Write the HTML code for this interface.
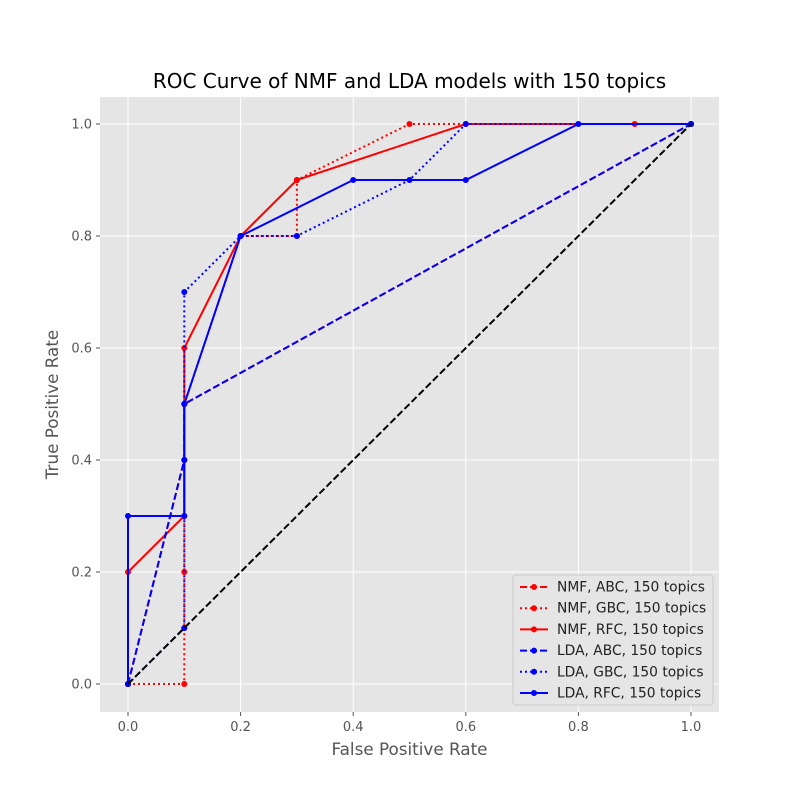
<!DOCTYPE html>
<html><head><meta charset="utf-8"><style>
body{margin:0;background:#fff;}
svg{display:block;font-family:"DejaVu Sans","Liberation Sans",sans-serif;}
</style></head><body>
<svg id="chart" width="800" height="800">
<rect x="0" y="0" width="800" height="800" fill="#fff"/>
<rect x="100" y="97" width="619" height="615" fill="#e5e5e5"/>
<g id="grid"></g>
<g id="ticks"></g>
<g id="series"></g>
<text x="409.5" y="88" font-size="20" text-anchor="middle" fill="#000">ROC Curve of NMF and LDA models with 150 topics</text>
<text x="409.5" y="755" font-size="16.8" text-anchor="middle" fill="#555">False Positive Rate</text>
<text x="58" y="404.5" font-size="16.8" text-anchor="middle" fill="#555" transform="rotate(-90 58 404.5)">True Positive Rate</text>
<g id="legend"></g>
</svg>
<script>
const xTicks=[0,0.2,0.4,0.6,0.8,1.0];
const yTicks=[0,0.2,0.4,0.6,0.8,1.0];
const tickLabels=["0.0","0.2","0.4","0.6","0.8","1.0"];
const seriesNames=["NMF, ABC, 150 topics","NMF, GBC, 150 topics","NMF, RFC, 150 topics","LDA, ABC, 150 topics","LDA, GBC, 150 topics","LDA, RFC, 150 topics"];
const nmfAbcX=[0,0.1,0.1,1];
const nmfAbcY=[0,0.4,0.5,1];
const nmfGbcX=[0,0.1,0.1,0.1,0.1,0.2,0.3,0.3,0.5,0.9,1];
const nmfGbcY=[0,0,0.1,0.2,0.5,0.8,0.8,0.9,1,1,1];
const nmfRfcX=[0,0,0.1,0.1,0.2,0.3,0.6,1];
const nmfRfcY=[0,0.2,0.3,0.6,0.8,0.9,1,1];
const ldaAbcX=[0,0.1,0.1,1];
const ldaAbcY=[0,0.4,0.5,1];
const ldaGbcX=[0,0.1,0.1,0.1,0.2,0.3,0.5,0.6,1];
const ldaGbcY=[0,0.1,0.4,0.7,0.8,0.8,0.9,1,1];
const ldaRfcX=[0,0,0.1,0.1,0.2,0.4,0.6,0.8,1];
const ldaRfcY=[0,0.3,0.3,0.5,0.8,0.9,0.9,1,1];
const refX=[0,1];
const refY=[0,1];

const NS="http://www.w3.org/2000/svg";
const sx=v=>128+v*563, sy=v=>684-v*560;
function mk(t,a,p){const e=document.createElementNS(NS,t);for(const k in a)e.setAttribute(k,a[k]);p.appendChild(e);return e;}
const grid=document.getElementById('grid'),ticks=document.getElementById('ticks');
xTicks.forEach((v,i)=>{
  const g=mk('line',{x1:sx(v),x2:sx(v),y1:97,y2:712,stroke:'#fff','stroke-width':1},grid);
  
  
  mk('line',{x1:sx(v),x2:sx(v),y1:712,y2:716,stroke:'#555'},ticks);
  const t=mk('text',{x:sx(v),y:731,'font-size':13,'text-anchor':'middle',fill:'#555'},ticks);
  t.textContent=tickLabels[i];
  
  
});
yTicks.forEach((v,i)=>{
  const g=mk('line',{x1:100,x2:719,y1:sy(v),y2:sy(v),stroke:'#fff','stroke-width':1},grid);
  
  
  mk('line',{x1:96,x2:100,y1:sy(v),y2:sy(v),stroke:'#555'},ticks);
  const t=mk('text',{x:92,y:sy(v)+4.5,'font-size':13,'text-anchor':'end',fill:'#555'},ticks);
  t.textContent=tickLabels[i];
  
  
});
const styles=[
 {xs:nmfAbcX,ys:nmfAbcY,c:'red',d:'7,3',n:'nmf-abc-line'},
 {xs:nmfGbcX,ys:nmfGbcY,c:'red',d:'2,3',n:'nmf-gbc-line'},
 {xs:nmfRfcX,ys:nmfRfcY,c:'red',d:'',n:'nmf-rfc-line'},
 {xs:ldaAbcX,ys:ldaAbcY,c:'blue',d:'7,3',n:'lda-abc-line'},
 {xs:ldaGbcX,ys:ldaGbcY,c:'blue',d:'2,3',n:'lda-gbc-line'},
 {xs:ldaRfcX,ys:ldaRfcY,c:'blue',d:'',n:'lda-rfc-line'}
];
const ser=document.getElementById('series');
styles.forEach(s=>{
  const g=mk('g',{},ser);
  
  
  mk('polyline',{points:s.xs.map((x,i)=>sx(x)+','+sy(s.ys[i])).join(' '),fill:'none',stroke:s.c,'stroke-width':2,'stroke-dasharray':s.d},g);
  s.xs.forEach((x,i)=>mk('circle',{cx:sx(x),cy:sy(s.ys[i]),r:3,fill:s.c},g));
});
const ref=mk('polyline',{points:refX.map((x,i)=>sx(x)+','+sy(refY[i])).join(' '),fill:'none',stroke:'#000','stroke-width':2,'stroke-dasharray':'7,3'},ser);


const lg=document.getElementById('legend');
const box=mk('rect',{x:513,y:575,width:200,height:130,rx:3,fill:'#e5e5e5',stroke:'#ccc'},lg);


seriesNames.forEach((nm,i)=>{
  const y=587+i*21.2, s=styles[i];
  const g=mk('g',{},lg);
  
  
  mk('line',{x1:520,x2:548,y1:y,y2:y,stroke:s.c,'stroke-width':2,'stroke-dasharray':s.d},g);
  mk('circle',{cx:534,cy:y,r:3,fill:s.c},g);
  const t=mk('text',{x:557,y:y+4.5,'font-size':13.8,fill:'#222'},g);
  t.textContent=nm;
});
</script>
</body></html>
